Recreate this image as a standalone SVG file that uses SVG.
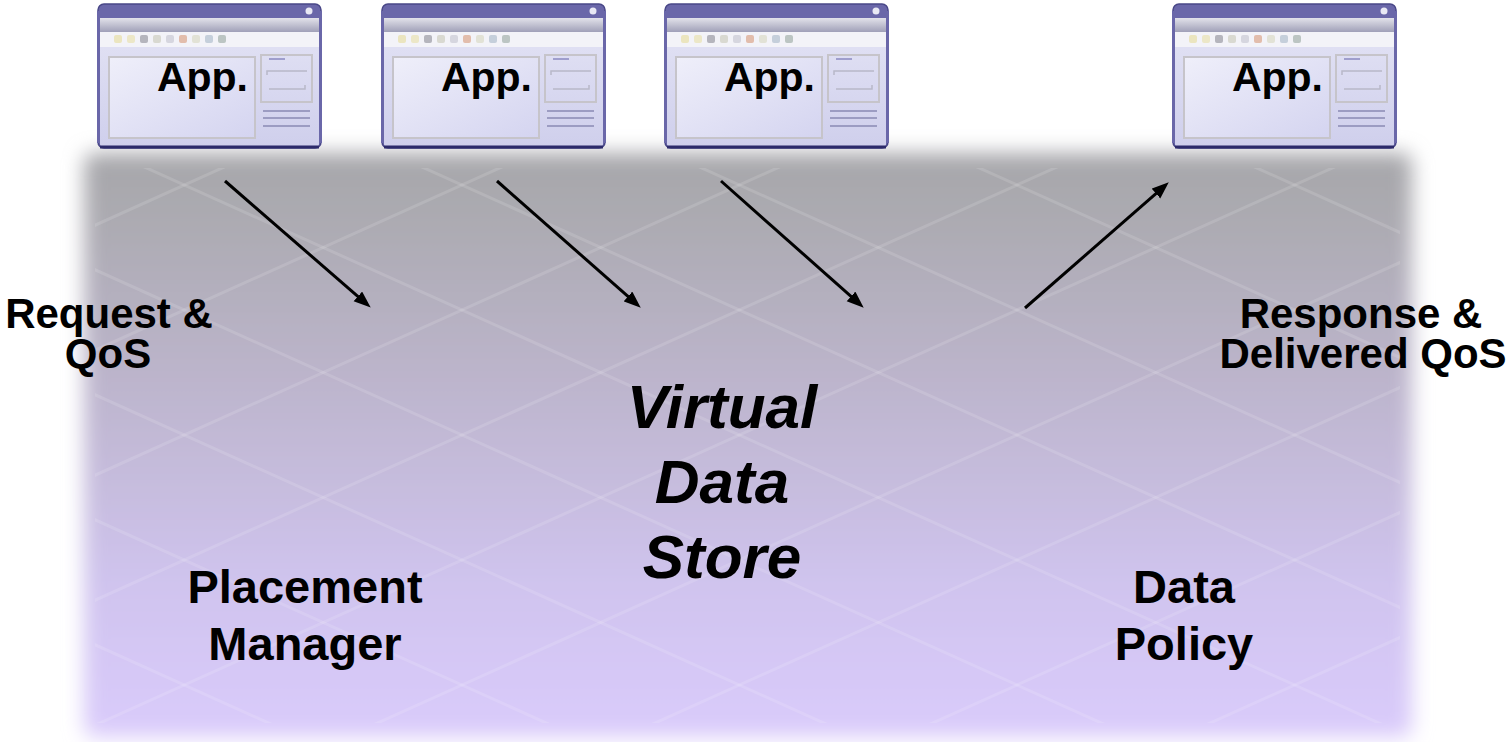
<svg xmlns="http://www.w3.org/2000/svg" xmlns:xlink="http://www.w3.org/1999/xlink" width="1511" height="742" viewBox="0 0 1511 742">
  <style>
    .lbl { font-family: "Liberation Sans", Arial, Helvetica, sans-serif; font-weight: bold; fill: #000; text-anchor: middle; }
    .app { font-family: "Liberation Sans", Arial, Helvetica, sans-serif; font-weight: bold; font-size: 41px; fill: #000; text-anchor: end; }
    .vds { font-family: "Liberation Sans", Arial, Helvetica, sans-serif; font-weight: bold; font-style: italic; font-size: 62px; fill: #000; text-anchor: middle; }
    .conn { stroke: #000; stroke-width: 3; fill: none; marker-end: url(#arrow); }
    .grid { stroke: #ffffff; stroke-width: 3; stroke-opacity: 0.13; fill: none; }
  </style>
  <defs>
    <linearGradient id="bgGrad" x1="0" y1="0" x2="0" y2="1">
      <stop offset="0" stop-color="#a6a6aa"/>
      <stop offset="0.1" stop-color="#abaab0"/>
      <stop offset="0.4" stop-color="#bdb5cd"/>
      <stop offset="0.75" stop-color="#d0c4ef"/>
      <stop offset="1" stop-color="#dacbfb"/>
    </linearGradient>
    <filter id="soft" x="-5%" y="-10%" width="110%" height="120%">
      <feGaussianBlur stdDeviation="10"/>
    </filter>
    <clipPath id="bgClip">
      <rect x="95" y="168" width="1305" height="555"/>
    </clipPath>
    <linearGradient id="bandGrad" x1="0" y1="0" x2="0" y2="1">
      <stop offset="0" stop-color="#e2e2ea"/>
      <stop offset="1" stop-color="#a0a0b8"/>
    </linearGradient>
    <linearGradient id="bodyGrad" x1="0" y1="0" x2="0" y2="1">
      <stop offset="0" stop-color="#e4e4f5"/>
      <stop offset="1" stop-color="#cfcfec"/>
    </linearGradient>
    <linearGradient id="panelGrad" x1="0" y1="0" x2="1" y2="1">
      <stop offset="0" stop-color="#efeffa"/>
      <stop offset="1" stop-color="#d4d4f0"/>
    </linearGradient>
    <marker id="arrow" markerUnits="userSpaceOnUse" markerWidth="18" markerHeight="14" refX="6" refY="6.5" orient="auto">
      <path d="M0,0 L17,6.5 L0,13 Z" fill="#000"/>
    </marker>
    <symbol id="win" viewBox="0 0 225 146" width="225" height="146">
      <rect x="1" y="1" width="223" height="144" rx="6" fill="#6a67a9" stroke="#4a4888" stroke-width="1.5"/>
      <rect x="3" y="15" width="219" height="129" rx="3" fill="url(#bodyGrad)"/>
      <rect x="3" y="15" width="219" height="14" fill="url(#bandGrad)"/>
      <rect x="3" y="29" width="219" height="15" fill="#f3f3f8"/>
      <path d="M3,144 L222,144" stroke="#2c2a6a" stroke-width="3"/>
      <path d="M1.5,8 L1.5,140 M223.5,8 L223.5,140" stroke="#6a67a9" stroke-width="3"/>
      <circle cx="212" cy="8" r="3.5" fill="#e8e8f4"/>
      <g opacity="0.6">
        <rect x="17" y="32" width="8" height="8" rx="2" fill="#e6dc9a"/>
        <rect x="30" y="32" width="8" height="8" rx="2" fill="#e8e0a8"/>
        <rect x="43" y="32" width="8" height="8" rx="2" fill="#8c8c96"/>
        <rect x="56" y="32" width="8" height="8" rx="2" fill="#c8c8b8"/>
        <rect x="69" y="32" width="8" height="8" rx="2" fill="#c4c4d0"/>
        <rect x="82" y="32" width="8" height="8" rx="2" fill="#d89a7a"/>
        <rect x="95" y="32" width="8" height="8" rx="2" fill="#d8d8c0"/>
        <rect x="108" y="32" width="8" height="8" rx="2" fill="#a8b8c8"/>
        <rect x="121" y="32" width="8" height="8" rx="2" fill="#98a8a0"/>
      </g>
      <rect x="12" y="54" width="146" height="81" fill="url(#panelGrad)" stroke="#c6c4ca" stroke-width="2"/>
      <rect x="164" y="52" width="51" height="47" fill="none" stroke="#c6c4ca" stroke-width="2"/>
      <path d="M172,56 L188,56" stroke="#8a88c0" stroke-width="1.5"/>
      <path d="M170,72 L170,68 L210,68 M172,86 L208,86 L208,82" stroke="#b8b8c8" stroke-width="1.5" fill="none"/>
      <path d="M166,108 L213,108 M166,115 L213,115 M166,123 L213,123" stroke="#9c9cc2" stroke-width="2"/>
    </symbol>
  </defs>

  <rect width="1511" height="742" fill="#ffffff"/>

  <g id="background">
    <rect x="84" y="153" width="1328" height="584" rx="10" fill="url(#bgGrad)" filter="url(#soft)"/>
    <g clip-path="url(#bgClip)">
      <path class="grid" d="M60,-621 L1430,-4 M60,-496 L1430,121 M60,-371 L1430,246 M60,-246 L1430,371 M60,-121 L1430,496 M60,4 L1430,621 M60,129 L1430,746 M60,254 L1430,871 M60,379 L1430,996 M60,504 L1430,1121 M60,629 L1430,1246"/>
      <path class="grid" d="M60,116 L1430,-501 M60,241 L1430,-376 M60,366 L1430,-251 M60,491 L1430,-126 M60,616 L1430,-1 M60,741 L1430,124 M60,866 L1430,249 M60,991 L1430,374 M60,1116 L1430,499 M60,1241 L1430,624 M60,1366 L1430,749"/>
    </g>
  </g>

  <g id="app1">
    <use xlink:href="#win" x="97" y="3"/>
    <text class="app" x="248" y="91">App.</text>
  </g>
  <g id="app2">
    <use xlink:href="#win" x="381" y="3"/>
    <text class="app" x="532" y="91">App.</text>
  </g>
  <g id="app3">
    <use xlink:href="#win" x="664" y="3"/>
    <text class="app" x="815" y="91">App.</text>
  </g>
  <g id="app4">
    <use xlink:href="#win" x="1172" y="3"/>
    <text class="app" x="1323" y="91">App.</text>
  </g>

  <g id="connectors">
    <path class="conn" d="M225,181 L362.4,300.4"/>
    <path class="conn" d="M497,181 L632.5,300.4"/>
    <path class="conn" d="M721,181 L855.5,300.4"/>
    <path class="conn" d="M1025,308 L1160.5,189.6"/>
  </g>

  <g id="request-label">
    <text class="lbl" font-size="42" x="109" y="328">Request &amp;</text>
    <text class="lbl" font-size="42" x="108" y="368">QoS</text>
  </g>
  <g id="response-label">
    <text class="lbl" font-size="42" x="1361" y="328">Response &amp;</text>
    <text class="lbl" font-size="42" x="1363" y="368">Delivered QoS</text>
  </g>
  <g id="virtual-data-store">
    <text class="vds" x="722" y="428">Virtual</text>
    <text class="vds" x="722" y="503">Data</text>
    <text class="vds" x="722" y="578">Store</text>
  </g>
  <g id="placement-manager">
    <text class="lbl" font-size="47" x="305" y="603">Placement</text>
    <text class="lbl" font-size="47" x="305" y="660">Manager</text>
  </g>
  <g id="data-policy">
    <text class="lbl" font-size="47" x="1184" y="603">Data</text>
    <text class="lbl" font-size="47" x="1184" y="660">Policy</text>
  </g>
</svg>
